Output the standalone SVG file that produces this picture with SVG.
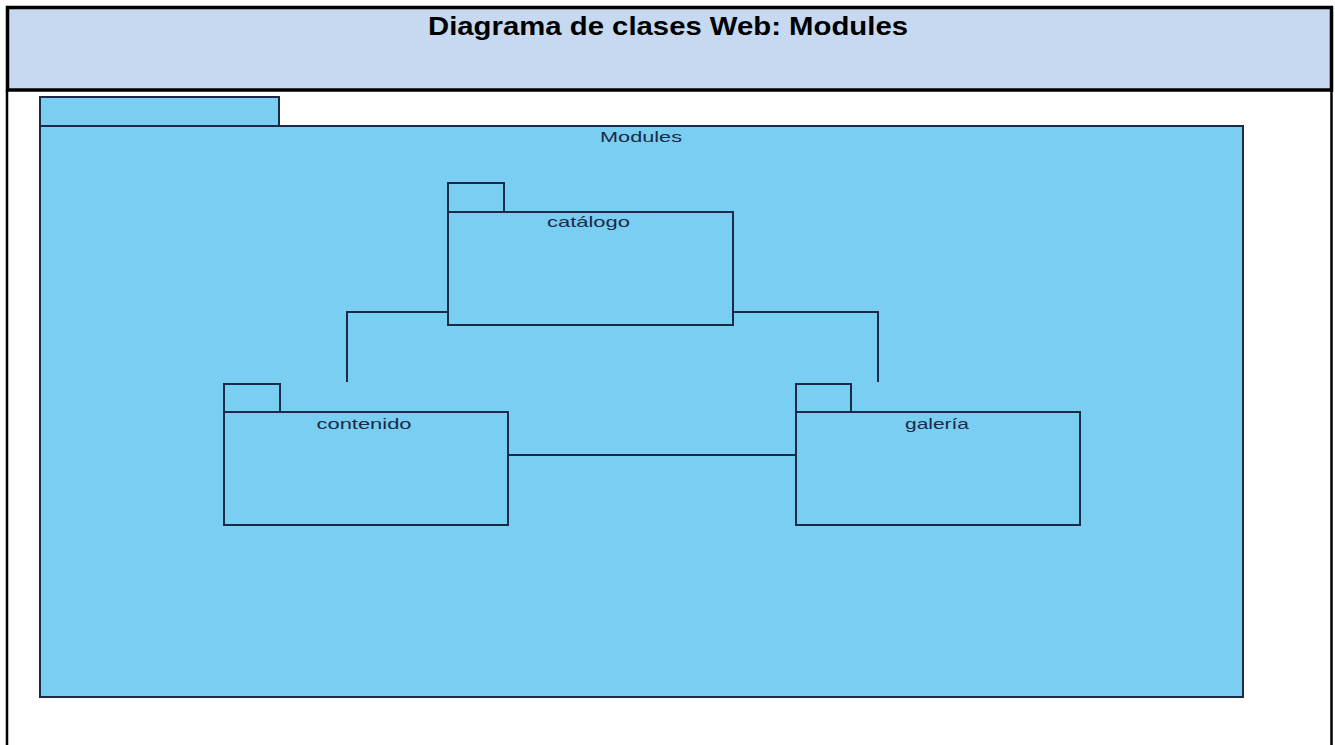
<svg xmlns="http://www.w3.org/2000/svg" width="1335" height="745" viewBox="0 0 1335 745">
  <style>
    .pkg { fill: #79CEF1; stroke: #1B2A48; stroke-width: 2; }
    .conn { fill: none; stroke: #1B2A48; stroke-width: 2; }
    .lbl { font-family: "Liberation Sans", Arial, sans-serif; font-size: 15px; fill: #1B2A48; text-anchor: middle; }
    .title { font-family: "Liberation Sans", Arial, sans-serif; font-size: 26px; font-weight: bold; fill: #000; text-anchor: middle; }
  </style>
  <rect x="0" y="0" width="1335" height="745" fill="#FFFFFF"/>

  <!-- header band and frame -->
  <g id="header">
    <rect x="7.5" y="7.5" width="1324" height="82.5" fill="#C6D9F0" stroke="#000" stroke-width="3.5"/>
    <text class="title" x="668" y="35" textLength="480" lengthAdjust="spacingAndGlyphs">Diagrama de clases Web: Modules</text>
  </g>
  <g id="frame">
    <line x1="7" y1="90" x2="7" y2="745" stroke="#000" stroke-width="2.5"/>
    <line x1="1331.5" y1="90" x2="1331.5" y2="745" stroke="#000" stroke-width="2.5"/>
  </g>

  <!-- outer package -->
  <g id="pkg-modules">
    <rect class="pkg" x="40" y="97" width="239" height="29"/>
    <rect class="pkg" x="40" y="126" width="1203" height="571"/>
    <text class="lbl" x="641" y="142" textLength="82" lengthAdjust="spacingAndGlyphs">Modules</text>
  </g>

  <!-- connectors -->
  <g id="connectors">
    <polyline class="conn" points="448,312 347,312 347,382"/>
    <polyline class="conn" points="733,312 878,312 878,382"/>
    <line class="conn" x1="508" y1="455" x2="796" y2="455"/>
  </g>

  <g id="pkg-catalogo">
    <rect class="pkg" x="448" y="183" width="56" height="29"/>
    <rect class="pkg" x="448" y="212" width="285" height="113"/>
    <text class="lbl" x="588.5" y="227" textLength="83" lengthAdjust="spacingAndGlyphs">catálogo</text>
  </g>

  <g id="pkg-contenido">
    <rect class="pkg" x="224" y="384" width="56" height="28"/>
    <rect class="pkg" x="224" y="412" width="284" height="113"/>
    <text class="lbl" x="364" y="429" textLength="95" lengthAdjust="spacingAndGlyphs">contenido</text>
  </g>

  <g id="pkg-galeria">
    <rect class="pkg" x="796" y="384" width="55" height="28"/>
    <rect class="pkg" x="796" y="412" width="284" height="113"/>
    <text class="lbl" x="937" y="429" textLength="64" lengthAdjust="spacingAndGlyphs">galería</text>
  </g>
</svg>
